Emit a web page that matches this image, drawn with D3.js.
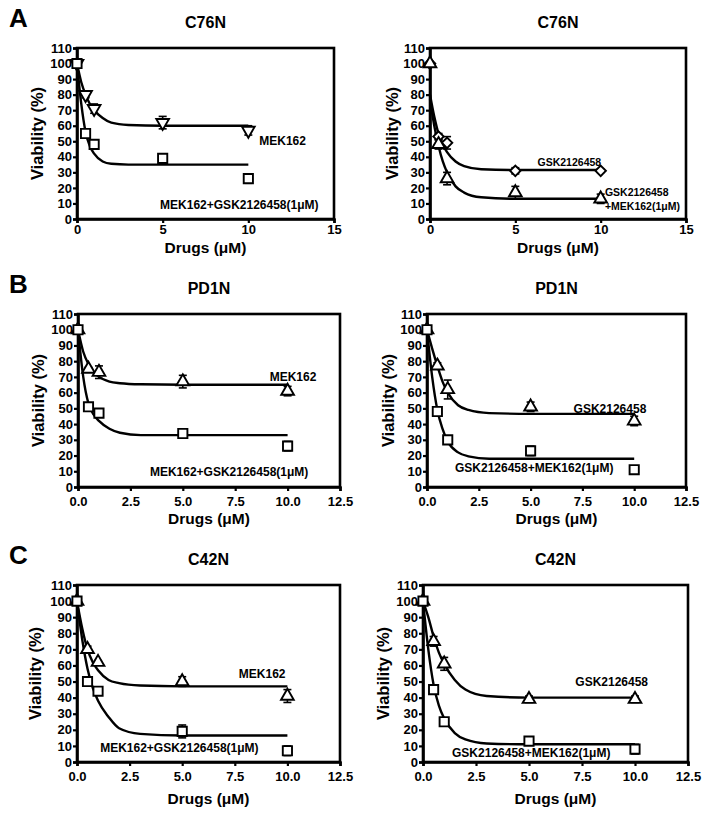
<!DOCTYPE html>
<html><head><meta charset="utf-8">
<script src="https://cdn.jsdelivr.net/npm/d3@7"></script>
<style>
body{margin:0;background:#fff;}
svg{display:block;font-family:"Liberation Sans",Arial,Helvetica,sans-serif;font-weight:bold;}
</style></head>
<body><svg id="c" width="708" height="828"></svg>
<script>
// ---------- data ----------
const doses = [0, 0.5, 1, 5, 10];
const curveDoses = [0, 0.25, 0.5, 0.75, 1, 1.5, 2, 3, 5, 10];

// Panel A (C76N) left
const a1Mek = [100, 80, 71, 62, 57];
const a1MekErr = [0, 2, 3, 4, 3];
const a1MekFit = [100, 88, 80, 74, 70, 65, 62, 60.5, 60, 60];
const a1Combo = [100, 55, 48, 39, 26];
const a1ComboErr = [0, 2, 2, 2, 3];
const a1ComboFit = [100, 74, 56, 47, 42, 37, 35.5, 35, 35, 35];
// Panel A (C76N) right
const a2Gsk = [100, 53, 49, 31, 31];
const a2GskErr = [0, 2, 4, 2, 1];
const a2GskFit = [80, 66, 55, 48, 43, 37, 34, 32, 31.5, 31.5];
const a2Combo = [100, 48, 26, 17, 13];
const a2ComboErr = [0, 3, 4, 4, 3];
const a2ComboFit = [77, 60, 47, 37, 30, 21, 17, 14, 13, 13];
// Panel B (PD1N) left
const b1Mek = [100, 75, 73, 67, 61];
const b1MekErr = [0, 1, 4, 4, 3];
const b1MekFit = [100, 86, 78, 73, 70, 67, 66, 65.3, 65, 65];
const b1Combo = [100, 51, 47, 34, 26];
const b1ComboErr = [0, 2, 1, 1, 3];
const b1ComboFit = [100, 70, 53, 46, 42, 37, 34.5, 33, 33, 33];
// Panel B (PD1N) right
const b2Gsk = [100, 77, 62, 51, 42];
const b2GskErr = [0, 2, 6, 3, 3];
const b2GskFit = [100, 88, 77, 67, 60, 52, 49, 47, 46.5, 46.5];
const b2Combo = [100, 48, 30, 23, 11];
const b2ComboErr = [0, 3, 2, 3, 1];
const b2ComboFit = [100, 70, 49, 37, 29, 22, 19.5, 18, 18, 18];
// Panel C (C42N) left
const c1Mek = [100, 70, 62, 50, 41];
const c1MekErr = [0, 2, 1, 3, 4];
const c1MekFit = [100, 83, 70, 62, 57, 51, 49, 47.5, 47, 47];
const c1Combo = [100, 50, 44, 19, 7];
const c1ComboErr = [0, 1, 2, 4, 3];
const c1ComboFit = [100, 76, 58, 46, 38, 28, 21, 17.5, 16.5, 16.5];
// Panel C (C42N) right
const c2Gsk = [100, 75, 61, 39, 39];
const c2GskErr = [0, 3, 4, 2, 2];
const c2GskFit = [100, 90, 78, 68, 61, 51, 45, 41, 40, 40];
const c2Combo = [100, 45, 25, 13, 8];
const c2ComboErr = [0, 1, 2, 1, 3];
const c2ComboFit = [100, 70, 48, 35, 27, 18, 14, 11.5, 11, 11];

const yTicks = [0, 10, 20, 30, 40, 50, 60, 70, 80, 90, 100, 110];
const xTicks15 = [0, 5, 10, 15];
const xTicks125 = [0, 2.5, 5, 7.5, 10, 12.5];

// ---------- layout ----------
const svg = d3.select("#c");
const panels = [
  {letter:"A", title:"C76N", x0:77, x1:334, yt:48, yb:219, xMax:15, ticks:xTicks15, fmt:d3.format("d"), tickPad:2, xlabOff:34, ylabOff:40,
   series:[{y:a1Mek,e:a1MekErr,f:a1MekFit,m:"tri-down"},{y:a1Combo,e:a1ComboErr,f:a1ComboFit,m:"square"}],
   labels:[{t:"MEK162",x:12,y:50,a:"middle",s:12},{t:"MEK162+GSK2126458(1μM)",x:4.85,y:9,a:"start",s:12}]},
  {letter:"", title:"C76N", x0:430, x1:686, yt:48, yb:219, xMax:15, ticks:xTicks15, fmt:d3.format("d"), tickPad:2, xlabOff:34, ylabOff:38,
   series:[{y:a2Gsk,e:a2GskErr,f:a2GskFit,m:"diamond"},{y:a2Combo,e:a2ComboErr,f:a2ComboFit,m:"tri-up"}],
   labels:[{t:"GSK2126458",x:6.3,y:36.5,a:"start",s:10.5},{t:"GSK2126458",x:10.25,y:17.2,a:"start",s:10.5},{t:"+MEK162(1μM)",x:10.25,y:8.2,a:"start",s:10.5}]},
  {letter:"B", title:"PD1N", x0:78, x1:340, yt:314, yb:487, xMax:12.5, ticks:xTicks125, fmt:d3.format(".1f"), tickPad:6, xlabOff:37, ylabOff:40,
   series:[{y:b1Mek,e:b1MekErr,f:b1MekFit,m:"tri-up"},{y:b1Combo,e:b1ComboErr,f:b1ComboFit,m:"square"}],
   labels:[{t:"MEK162",x:10.26,y:70,a:"middle",s:12},{t:"MEK162+GSK2126458(1μM)",x:3.43,y:9.5,a:"start",s:12}]},
  {letter:"", title:"PD1N", x0:427, x1:686, yt:314, yb:487, xMax:12.5, ticks:xTicks125, fmt:d3.format(".1f"), tickPad:6, xlabOff:37, ylabOff:39,
   series:[{y:b2Gsk,e:b2GskErr,f:b2GskFit,m:"tri-up"},{y:b2Combo,e:b2ComboErr,f:b2ComboFit,m:"square"}],
   labels:[{t:"GSK2126458",x:8.83,y:50,a:"middle",s:12},{t:"GSK2126458+MEK162(1μM)",x:1.35,y:12,a:"start",s:12}]},
  {letter:"C", title:"C42N", x0:77, x1:340, yt:585, yb:762, xMax:12.5, ticks:xTicks125, fmt:d3.format(".1f"), tickPad:6, xlabOff:42, ylabOff:42,
   series:[{y:c1Mek,e:c1MekErr,f:c1MekFit,m:"tri-up"},{y:c1Combo,e:c1ComboErr,f:c1ComboFit,m:"square"}],
   labels:[{t:"MEK162",x:8.8,y:55,a:"middle",s:12},{t:"MEK162+GSK2126458(1μM)",x:1.1,y:8.7,a:"start",s:12}]},
  {letter:"", title:"C42N", x0:423, x1:688, yt:585, yb:762, xMax:12.5, ticks:xTicks125, fmt:d3.format(".1f"), tickPad:6, xlabOff:42, ylabOff:40,
   series:[{y:c2Gsk,e:c2GskErr,f:c2GskFit,m:"tri-up"},{y:c2Combo,e:c2ComboErr,f:c2ComboFit,m:"square"}],
   labels:[{t:"GSK2126458",x:8.9,y:49.7,a:"middle",s:12},{t:"GSK2126458+MEK162(1μM)",x:1.37,y:5.6,a:"start",s:12}]}
];

function markerPath(type) {
  if (type === "square") return d3.symbol().type(d3.symbolSquare).size(85)();
  if (type === "diamond") return d3.symbol().type(d3.symbolSquare).size(55)();
  return d3.symbol().type(d3.symbolTriangle).size(70)();
}
function markerRot(type) {
  if (type === "tri-down") return 180;
  if (type === "diamond") return 45;
  return 0;
}

panels.forEach(p => {
  const x = d3.scaleLinear().domain([0, p.xMax]).range([p.x0, p.x1]);
  const y = d3.scaleLinear().domain([0, 110]).range([p.yb, p.yt]);
  const g = svg.append("g");

  // frame
  g.append("rect").attr("x", p.x0).attr("y", p.yt).attr("width", p.x1 - p.x0).attr("height", p.yb - p.yt)
    .attr("fill", "none").attr("stroke", "#000").attr("stroke-width", 2.6);

  // axes
  const ya = g.append("g").attr("transform", `translate(${p.x0},0)`)
    .call(d3.axisLeft(y).tickValues(yTicks).tickSize(4).tickPadding(1).tickFormat(d3.format("d")));
  const xa = g.append("g").attr("transform", `translate(0,${p.yb})`)
    .call(d3.axisBottom(x).tickValues(p.ticks).tickSize(4).tickPadding(p.tickPad).tickFormat(p.fmt));
  [ya, xa].forEach(a => {
    a.select(".domain").attr("stroke-width", 2.6);
    a.selectAll(".tick line").attr("stroke-width", 2.2);
    a.selectAll(".tick text").attr("font-size", 13).attr("font-weight", "bold").attr("fill", "#000")
      .attr("font-family", '"Liberation Sans",Arial,sans-serif');
  });

  // titles
  g.append("text").attr("x", (p.x0 + p.x1) / 2).attr("y", p.yt - 20).attr("text-anchor", "middle")
    .attr("font-size", 16).text(p.title);
  if (p.letter) g.append("text").attr("x", 9).attr("y", p.yt - 21).attr("font-size", 26).text(p.letter);
  g.append("text").attr("x", (p.x0 + p.x1) / 2).attr("y", p.yb + p.xlabOff).attr("text-anchor", "middle")
    .attr("font-size", 15.5).text("Drugs (μM)");
  g.append("text").attr("transform", `translate(${p.x0 - p.ylabOff},${(p.yt + p.yb) / 2}) rotate(-90)`)
    .attr("text-anchor", "middle").attr("dy", "0.35em").attr("font-size", 16.5).text("Viability (%)");

  // curves
  const line = d3.line().x((d, i) => x(curveDoses[i])).y(d => y(d)).curve(d3.curveMonotoneX);
  p.series.forEach(s => {
    g.append("path").attr("d", line(s.f)).attr("fill", "none").attr("stroke", "#000").attr("stroke-width", 2.4);
  });

  // error bars + markers
  p.series.forEach(s => {
    s.y.forEach((v, i) => {
      const e = s.e[i];
      if (e > 0) {
        const cx = x(doses[i]);
        g.append("line").attr("x1", cx).attr("x2", cx).attr("y1", y(v - e)).attr("y2", y(v + e))
          .attr("stroke", "#000").attr("stroke-width", 1.6);
        [v - e, v + e].forEach(w => g.append("line").attr("x1", cx - 4).attr("x2", cx + 4)
          .attr("y1", y(w)).attr("y2", y(w)).attr("stroke", "#000").attr("stroke-width", 1.6));
      }
    });
  });
  p.series.forEach(s => {
    g.selectAll(null).data(s.y).enter().append("path")
      .attr("d", markerPath(s.m))
      .attr("transform", (d, i) => `translate(${x(doses[i])},${y(d)}) rotate(${markerRot(s.m)})`)
      .attr("fill", "#fff").attr("stroke", "#000").attr("stroke-width", 1.9);
  });

  // series labels
  p.labels.forEach(l => {
    g.append("text").attr("x", x(l.x)).attr("y", y(l.y)).attr("dy", "0.35em").attr("text-anchor", l.a)
      .attr("font-size", l.s).text(l.t);
  });
});
</script></body></html>
